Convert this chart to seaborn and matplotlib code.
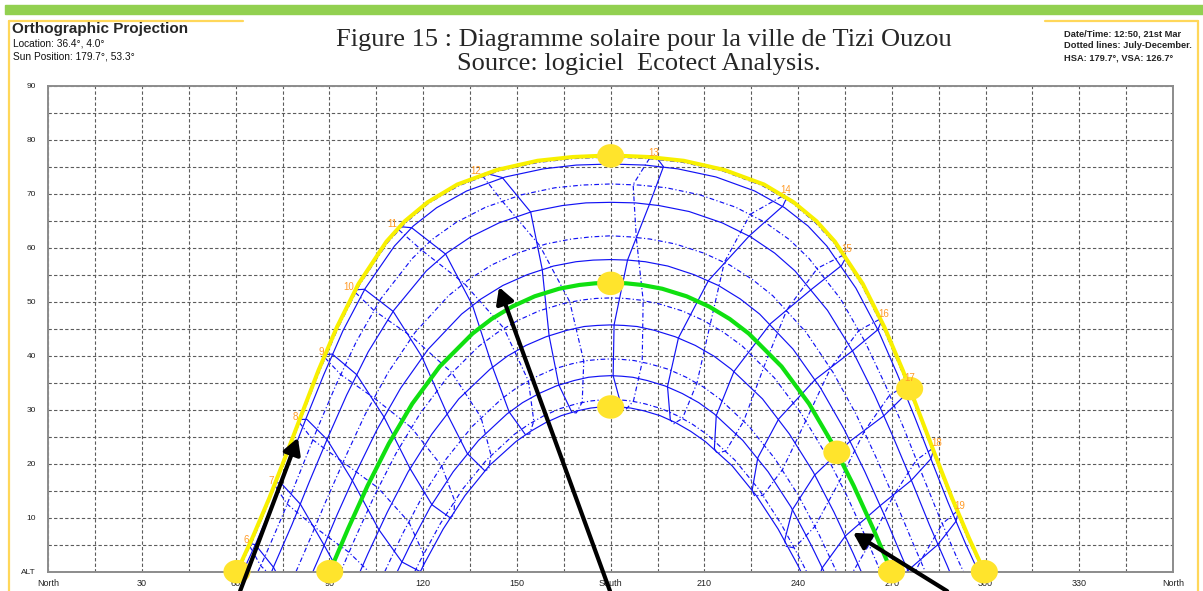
import numpy as np
import matplotlib
matplotlib.use("Agg")
import matplotlib.pyplot as plt
from matplotlib.lines import Line2D
from matplotlib.patches import Rectangle
from matplotlib.path import Path
import seaborn as sns

# Sun-path chart, Tizi Ouzou (36.4N, 4.0E), values in degrees: azimuth (from North) / altitude.
# Monthly sun paths (1st of each month), sunrise -> sunset.
jan_az = [119.1, 120.1, 126.4, 133.4, 141.1, 149.7, 154.4, 159.2, 164.2, 169.4, 173.6, 176.8, 180.0,
          183.2, 186.4, 190.6, 195.8, 200.8, 205.6, 210.3, 218.9, 226.6, 233.6, 239.9, 240.9]
jan_alt = [0.0, 1.2, 7.9, 14.1, 19.6, 24.1, 26.0, 27.6, 28.9, 29.8, 30.3, 30.5, 30.5,
           30.5, 30.3, 29.8, 28.9, 27.6, 26.0, 24.1, 19.6, 14.1, 7.9, 1.2, 0.0]
feb_az = [111.7, 115.8, 122.3, 129.6, 137.7, 146.8, 151.8, 157.1, 162.6, 168.3, 172.9, 176.5, 180.0,
          183.5, 187.1, 191.7, 197.4, 202.9, 208.2, 213.2, 222.3, 230.4, 237.7, 244.2, 248.3]
feb_alt = [0.0, 4.9, 12.0, 18.5, 24.3, 29.2, 31.3, 33.0, 34.4, 35.4, 36.0, 36.2, 36.3,
           36.2, 36.0, 35.4, 34.4, 33.0, 31.3, 29.2, 24.3, 18.5, 12.0, 4.9, 0.0]
mar_az = [99.8, 102.3, 108.5, 115.2, 122.8, 131.4, 141.4, 146.9, 152.9, 159.3, 166.0, 171.5, 175.7, 180.0,
          184.3, 188.5, 194.0, 200.7, 207.1, 213.1, 218.6, 228.6, 237.2, 244.8, 251.5, 257.7, 260.2]
mar_alt = [0.0, 3.3, 11.0, 18.5, 25.5, 32.0, 37.5, 39.9, 41.9, 43.5, 44.7, 45.4, 45.6, 45.7,
           45.6, 45.4, 44.7, 43.5, 41.9, 39.9, 37.5, 32.0, 25.5, 18.5, 11.0, 3.3, 0.0]
apr_az = [84.7, 86.6, 92.5, 98.7, 105.3, 112.8, 121.6, 132.3, 138.5, 145.5, 153.3, 161.7, 168.9, 174.4, 180.0,
          185.6, 191.1, 198.3, 206.7, 214.5, 221.5, 227.7, 238.4, 247.2, 254.7, 261.3, 267.5, 273.4, 275.3]
apr_alt = [0.0, 2.5, 10.6, 18.6, 26.4, 34.0, 41.2, 47.7, 50.5, 53.0, 55.0, 56.6, 57.4, 57.7, 57.8,
           57.7, 57.4, 56.6, 55.0, 53.0, 50.5, 47.7, 41.2, 34.0, 26.4, 18.6, 10.6, 2.5, 0.0]
may_az = [71.5, 72.2, 78.0, 83.6, 89.4, 95.5, 102.4, 110.6, 121.0, 127.5, 135.2, 144.3, 154.9, 164.5, 172.1,
          180.0, 187.9, 195.5, 205.1, 215.7, 224.8, 232.5, 239.0, 249.4, 257.6, 264.5, 270.6, 276.4, 282.0,
          287.8, 288.5]
may_alt = [0.0, 1.0, 8.7, 16.7, 24.7, 32.7, 40.7, 48.4, 55.7, 59.0, 62.0, 64.6, 66.7, 67.8, 68.3,
           68.4, 68.3, 67.8, 66.7, 64.6, 62.0, 59.0, 55.7, 48.4, 40.7, 32.7, 24.7, 16.7, 8.7, 1.0, 0.0]
jun_az = [62.3, 66.5, 72.0, 77.3, 82.6, 88.2, 94.3, 101.5, 110.8, 116.8, 124.3, 133.9, 146.3, 158.5, 169.0,
          180.0, 191.0, 201.5, 213.7, 226.1, 235.7, 243.2, 249.2, 258.5, 265.7, 271.8, 277.4, 282.7, 288.0,
          293.5, 297.7]
jun_alt = [0.0, 5.3, 12.8, 20.6, 28.5, 36.5, 44.6, 52.5, 60.3, 64.0, 67.4, 70.5, 73.1, 74.6, 75.3,
           75.5, 75.3, 74.6, 73.1, 70.5, 67.4, 64.0, 60.3, 52.5, 44.6, 36.5, 28.5, 20.6, 12.8, 5.3, 0.0]
jul_az = [60.7, 65.6, 71.0, 76.2, 81.4, 86.8, 92.8, 99.7, 108.7, 114.6, 121.9, 131.5, 144.1, 156.9, 168.1,
          180.0, 191.9, 203.1, 215.9, 228.5, 238.1, 245.4, 251.3, 260.3, 267.2, 273.2, 278.6, 283.8, 289.0,
          294.4, 299.3]
jul_alt = [0.0, 6.0, 13.5, 21.2, 29.1, 37.1, 45.2, 53.2, 61.0, 64.7, 68.3, 71.5, 74.2, 75.8, 76.5,
           76.8, 76.5, 75.8, 74.2, 71.5, 68.3, 64.7, 61.0, 53.2, 45.2, 37.1, 29.1, 21.2, 13.5, 6.0, 0.0]
aug_az = [67.1, 69.5, 75.2, 80.7, 86.2, 92.1, 98.6, 106.4, 116.5, 122.8, 130.6, 140.0, 151.5, 162.2, 170.9,
          180.0, 189.1, 197.8, 208.5, 220.0, 229.4, 237.2, 243.5, 253.6, 261.4, 267.9, 273.8, 279.3, 284.8,
          290.5, 292.9]
aug_alt = [0.0, 3.0, 10.7, 18.6, 26.6, 34.6, 42.6, 50.5, 58.0, 61.5, 64.7, 67.5, 69.8, 71.1, 71.6,
           71.8, 71.6, 71.1, 69.8, 67.5, 64.7, 61.5, 58.0, 50.5, 42.6, 34.6, 26.6, 18.6, 10.7, 3.0, 0.0]
sep_az = [79.3, 83.1, 88.9, 95.0, 101.4, 108.8, 117.4, 128.1, 134.6, 141.9, 150.2, 159.4, 167.4, 173.7, 180.0,
          186.3, 192.6, 200.6, 209.8, 218.1, 225.4, 231.9, 242.6, 251.2, 258.6, 265.0, 271.1, 276.9, 280.7]
sep_alt = [0.0, 5.1, 13.1, 21.1, 29.1, 36.9, 44.3, 51.1, 54.1, 56.8, 59.0, 60.7, 61.6, 62.0, 62.2,
           62.0, 61.6, 60.7, 59.0, 56.8, 54.1, 51.1, 44.3, 36.9, 29.1, 21.1, 13.1, 5.1, 0.0]
oct_az = [93.6, 98.3, 104.5, 111.3, 118.8, 127.6, 137.9, 143.8, 150.2, 157.1, 164.5, 170.6, 175.3, 180.0,
          184.7, 189.4, 195.5, 202.9, 209.8, 216.2, 222.1, 232.4, 241.2, 248.7, 255.5, 261.7, 266.4]
oct_alt = [0.0, 6.3, 14.2, 21.9, 29.1, 35.9, 41.8, 44.3, 46.5, 48.3, 49.6, 50.3, 50.6, 50.7,
           50.6, 50.3, 49.6, 48.3, 46.5, 44.3, 41.8, 35.9, 29.1, 21.9, 14.2, 6.3, 0.0]
nov_az = [107.7, 113.4, 120.0, 127.4, 135.7, 145.1, 150.3, 155.8, 161.6, 167.6, 172.5, 176.2, 180.0,
          183.8, 187.5, 192.4, 198.4, 204.2, 209.7, 214.9, 224.3, 232.6, 240.0, 246.6, 252.3]
nov_alt = [0.0, 7.0, 14.2, 20.9, 26.9, 32.0, 34.2, 36.0, 37.5, 38.5, 39.1, 39.3, 39.4,
           39.3, 39.1, 38.5, 37.5, 36.0, 34.2, 32.0, 26.9, 20.9, 14.2, 7.0, 0.0]
dec_az = [117.3, 119.1, 125.5, 132.5, 140.3, 149.1, 153.8, 158.7, 163.8, 169.1, 173.4, 176.7, 180.0,
          183.3, 186.6, 190.9, 196.2, 201.3, 206.2, 210.9, 219.7, 227.5, 234.5, 240.9, 242.7]
dec_alt = [0.0, 2.1, 8.9, 15.2, 20.7, 25.4, 27.3, 28.9, 30.2, 31.1, 31.6, 31.8, 31.9,
           31.8, 31.6, 31.1, 30.2, 28.9, 27.3, 25.4, 20.7, 15.2, 8.9, 2.1, 0.0]

# Highlighted paths: 21 June (yellow) and 21 March (green)
jun21_az = [60.4, 65.3, 70.8, 76.0, 81.2, 86.5, 92.4, 99.3, 108.2, 114.1, 121.4, 130.9, 143.6, 156.6, 167.9,
            180.0, 192.1, 203.4, 216.4, 229.1, 238.6, 245.9, 251.8, 260.7, 267.6, 273.5, 278.8, 284.0, 289.2,
            294.7, 299.6]
jun21_alt = [0.0, 6.2, 13.7, 21.4, 29.3, 37.3, 45.3, 53.3, 61.1, 64.9, 68.4, 71.7, 74.4, 76.1, 76.8,
             77.1, 76.8, 76.1, 74.4, 71.7, 68.4, 64.9, 61.1, 53.3, 45.3, 37.3, 29.3, 21.4, 13.7, 6.2, 0.0]
mar21_az = [90.1, 96.0, 102.2, 109.0, 116.5, 125.3, 135.8, 141.9, 148.5, 155.7, 163.5, 170.0, 175.0, 180.0,
            185.0, 190.0, 196.5, 204.3, 211.5, 218.1, 224.2, 234.7, 243.5, 251.0, 257.8, 264.0, 269.9]
mar21_alt = [0.0, 8.0, 15.9, 23.7, 31.1, 38.0, 44.1, 46.8, 49.1, 51.0, 52.4, 53.1, 53.4, 53.5,
             53.4, 53.1, 52.4, 51.0, 49.1, 46.8, 44.1, 38.0, 31.1, 23.7, 15.9, 8.0, 0.0]

# Hour lines 6h..19h, points on: Jan1 Feb1 Mar1 Apr1 May1 Jun1 Jun21 Jul1 Aug1 Sep1 Oct1 Nov1 Dec1 Dec21
hours = [6, 7, 8, 9, 10, 11, 12, 13, 14, 15, 16, 17, 18, 19]
hour_az = [
    [102.8, 96.2, 88.0, 79.3, 72.1, 66.3, 64.6, 64.5, 68.0, 76.5, 87.3, 97.6, 103.3, 103.8],
    [110.7, 104.5, 96.8, 88.3, 80.7, 74.5, 72.7, 72.6, 76.5, 85.4, 96.2, 106.2, 111.4, 111.6],
    [119.1, 113.2, 105.8, 97.3, 89.2, 82.8, 80.5, 80.4, 84.7, 94.3, 105.6, 115.4, 120.1, 120.1],
    [128.6, 122.8, 115.8, 107.4, 98.7, 90.9, 88.6, 88.6, 93.6, 104.2, 116.2, 125.9, 130.1, 129.8],
    [139.7, 134.1, 127.6, 119.6, 110.4, 101.2, 98.3, 98.3, 104.2, 116.4, 129.1, 138.5, 141.7, 141.0],
    [152.7, 147.5, 142.2, 135.8, 127.2, 116.3, 112.4, 112.2, 119.4, 133.1, 145.8, 153.7, 155.4, 154.1],
    [167.6, 163.4, 160.3, 158.1, 154.4, 145.3, 139.8, 139.0, 145.2, 157.3, 166.9, 171.4, 170.9, 169.0],
    [183.5, 180.8, 181.1, 185.4, 192.4, 196.9, 194.7, 192.4, 187.2, 188.2, 190.4, 190.1, 187.3, 184.8],
    [199.1, 198.2, 201.7, 211.3, 224.4, 235.1, 236.4, 234.8, 224.7, 216.4, 211.9, 207.6, 203.0, 200.2],
    [213.2, 213.8, 219.5, 231.1, 244.3, 253.9, 255.4, 254.4, 246.2, 236.4, 229.1, 222.6, 216.9, 214.1],
    [225.3, 227.1, 233.8, 245.5, 257.4, 265.5, 266.7, 266.0, 259.5, 250.4, 242.5, 235.0, 228.7, 226.0],
    [235.7, 238.2, 245.3, 256.7, 267.5, 274.4, 275.5, 274.9, 269.3, 261.2, 253.3, 245.4, 238.8, 236.2],
    [244.7, 247.7, 255.1, 266.2, 276.2, 282.5, 283.3, 282.8, 277.9, 270.4, 262.7, 254.5, 247.7, 245.1],
    [252.8, 256.3, 264.1, 275.1, 284.7, 290.5, 291.2, 290.7, 286.2, 279.2, 271.6, 263.1, 255.8, 253.2],
]
hour_alt = [
    [-22.5, -21.5, -16.1, -7.1, 0.8, 5.0, 5.2, 4.7, 1.1, -3.7, -8.4, -13.8, -19.1, -21.7],
    [-11.0, -9.6, -4.0, 4.9, 12.5, 16.4, 16.5, 15.9, 12.5, 8.2, 3.6, -2.0, -7.6, -10.2],
    [0.0, 1.8, 7.8, 16.9, 24.5, 28.2, 28.2, 27.6, 24.4, 20.3, 15.5, 9.2, 3.3, 0.6],
    [10.0, 12.4, 19.1, 28.7, 36.5, 40.3, 40.2, 39.6, 36.5, 32.2, 26.7, 19.6, 13.1, 10.5],
    [18.7, 21.9, 29.3, 39.8, 48.2, 52.3, 52.2, 51.7, 48.4, 43.5, 36.9, 28.6, 21.6, 19.0],
    [25.4, 29.6, 37.9, 49.3, 58.8, 63.7, 63.9, 63.3, 59.6, 53.4, 45.1, 35.3, 27.9, 25.5],
    [29.5, 34.6, 43.7, 56.0, 66.6, 73.0, 73.8, 73.3, 68.7, 60.4, 50.0, 39.0, 31.4, 29.4],
    [30.5, 36.3, 45.7, 57.7, 68.0, 75.0, 76.7, 76.5, 71.7, 61.9, 50.3, 38.8, 31.6, 30.0],
    [28.1, 34.3, 43.3, 53.9, 62.2, 67.7, 69.3, 69.5, 66.2, 57.3, 45.9, 34.9, 28.4, 27.4],
    [22.8, 28.9, 37.1, 45.9, 52.3, 56.7, 58.3, 58.6, 56.2, 48.5, 38.0, 27.9, 22.4, 21.9],
    [15.1, 21.1, 28.3, 35.6, 40.9, 44.8, 46.4, 46.7, 44.7, 37.7, 28.0, 18.9, 14.1, 14.1],
    [5.8, 11.5, 17.9, 24.2, 28.9, 32.8, 34.3, 34.6, 32.7, 26.0, 16.8, 8.4, 4.4, 4.7],
    [-4.7, 0.7, 6.6, 12.2, 16.9, 20.9, 22.4, 22.7, 20.7, 14.0, 5.0, -3.0, -6.4, -5.8],
    [-15.9, -10.7, -5.3, 0.2, 5.0, 9.3, 10.9, 11.1, 8.9, 2.0, -7.0, -14.8, -17.8, -17.1],
]

# Hour labels along the 21 June path
label_az = [63.3, 71.5, 79.2, 87.5, 96.3, 110.2, 136.9, 193.7, 236.1, 255.6, 267.5, 275.8, 284.2, 291.8]
label_alt = [5.9, 16.7, 28.7, 40.7, 52.8, 64.4, 74.2, 77.5, 70.7, 59.7, 47.7, 35.9, 23.8, 12.2]

# Yellow sun markers
sun_az = [60.4, 90.1, 180.0, 180.0, 180.0, 252.4, 275.7, 269.9, 299.6]
sun_alt = [0.0, 0.0, 77.0, 53.4, 30.5, 22.1, 33.9, 0.0, 0.0]

# Black annotation arrows (tail below the axis -> tip)
arrow_tail_az = [61.4, 179.8, 287.7]
arrow_tail_alt = [-3.6, -3.6, -3.6]
arrow_tip_az = [79.9, 144.3, 257.6]
arrow_tip_alt = [24.8, 52.7, 7.2]

x_ticks = [0, 30, 60, 90, 120, 150, 180, 210, 240, 270, 300, 330, 360]
x_labels = ["North", "30", "60", "90", "120", "150", "South", "210", "240", "270", "300", "330", "North"]
y_ticks = [0, 10, 20, 30, 40, 50, 60, 70, 80, 90]
y_labels = ["ALT", "10", "20", "30", "40", "50", "60", "70", "80", "90"]

BLUE = "#1212F4"
DOTTED = (0, (4, 2, 1, 2))
GRID = "#5c5c5c"
FRAME = "#FFD75A"

sns.set_style("white")
plt.rcParams["font.family"] = ["Liberation Sans", "DejaVu Sans"]

fig = plt.figure(figsize=(12.03, 5.91), dpi=100)
ax = fig.add_axes([0.0401, 0.0327, 0.9350, 0.8223])


def draw(az, alt, **kw):
    sns.lineplot(x=az, y=alt, sort=False, estimator=None, ax=ax, **kw)


# hour lines (analemma halves): Jan-Jun solid, Jul-Dec dotted
for h_az, h_alt in zip(hour_az, hour_alt):
    draw(h_az[:8], h_alt[:8], color=BLUE, linewidth=0.85, zorder=2)
    draw(h_az[7:] + h_az[:1], h_alt[7:] + h_alt[:1], color=BLUE, linewidth=0.85,
         linestyle=DOTTED, zorder=2)

for az, alt in [(jan_az, jan_alt), (feb_az, feb_alt), (mar_az, mar_alt),
                (apr_az, apr_alt), (may_az, may_alt), (jun_az, jun_alt)]:
    draw(az, alt, color=BLUE, linewidth=0.85, zorder=2)
for az, alt in [(jul_az, jul_alt), (aug_az, aug_alt), (sep_az, sep_alt),
                (oct_az, oct_alt), (nov_az, nov_alt), (dec_az, dec_alt)]:
    draw(az, alt, color=BLUE, linewidth=0.85, linestyle=DOTTED, zorder=2)

draw(mar21_az, mar21_alt, color="#10E010", linewidth=3.0, zorder=3)
draw(jun21_az, jun21_alt, color="#F8F000", linewidth=2.9, zorder=3)

t = np.linspace(0, 2 * np.pi, 60)
oval = Path(np.column_stack([1.15 * np.cos(t), np.sin(t)]))
sns.scatterplot(x=sun_az, y=sun_alt, marker=oval, s=380, color="#FFE42C",
                edgecolor="none", ax=ax, zorder=6, clip_on=False)

for h, la, ll in zip(hours, label_az, label_alt):
    ax.text(la, ll, str(h), color="#FF9A26", fontsize=7, ha="center", va="center", zorder=7)

for ta, tl, ha, hl in zip(arrow_tail_az, arrow_tail_alt, arrow_tip_az, arrow_tip_alt):
    ax.annotate("", xy=(ha, hl), xytext=(ta, tl), xycoords="data", annotation_clip=False,
                arrowprops=dict(arrowstyle="-|>,head_length=0.5,head_width=0.28", lw=3,
                                color="black", shrinkA=0, shrinkB=0, mutation_scale=19),
                zorder=9)

ax.set_xlim(0, 360)
ax.set_ylim(0, 90)
ax.set_xticks(x_ticks)
ax.set_xticklabels(x_labels)
ax.set_xticks(range(15, 360, 30), minor=True)
ax.set_yticks(y_ticks)
ax.set_yticklabels(y_labels)
ax.set_yticks(range(5, 90, 10), minor=True)
ax.set_xlabel("")
ax.set_ylabel("")
ax.set_axisbelow(True)
ax.grid(which="both", color=GRID, linestyle=(0, (3, 2)), linewidth=0.8)
ax.tick_params(axis="y", which="major", length=7, width=1, color="#8a8a8a",
               labelsize=6, pad=2, labelcolor="#222222")
ax.tick_params(axis="x", which="major", length=3.5, width=1, color="#8a8a8a",
               labelsize=6.5, pad=2, labelcolor="#222222")
ax.tick_params(which="minor", length=0)
for side in ["left", "bottom", "top", "right"]:
    ax.spines[side].set_color("#8c8c8c")
    ax.spines[side].set_linewidth(1.4)

# page decorations: green rule and yellow Ecotect frame
fig.patches.append(Rectangle((5 / 1203, 1 - 14 / 591), 1, 9 / 591, transform=fig.transFigure,
                             color="#92D050", zorder=0))
for xs, ys in [([8.5, 8.5], [20.5, 591]), ([8.5, 243], [20.5, 20.5]),
               ([1198, 1198], [20.5, 591]), ([1045, 1198], [20.5, 20.5])]:
    fig.add_artist(Line2D([x / 1203 for x in xs], [1 - y / 591 for y in ys],
                          transform=fig.transFigure, color=FRAME, linewidth=1.6))

fig.text(11.5 / 1203, 1 - 33.3 / 591, "Orthographic Projection", fontsize=11,
         fontweight="bold", va="baseline", ha="left")
fig.text(13 / 1203, 1 - 46.7 / 591, "Location: 36.4°, 4.0°", fontsize=7.3,
         va="baseline", ha="left", color="#111111")
fig.text(13 / 1203, 1 - 59.3 / 591, "Sun Position: 179.7°, 53.3°", fontsize=7.3,
         va="baseline", ha="left", color="#111111")
fig.text(1064 / 1203, 1 - 36.7 / 591, "Date/Time: 12:50, 21st Mar", fontsize=6.7,
         fontweight="bold", va="baseline", ha="left", color="#222222")
fig.text(1064 / 1203, 1 - 48.3 / 591, "Dotted lines: July-December.", fontsize=6.7,
         fontweight="bold", va="baseline", ha="left", color="#222222")
fig.text(1064 / 1203, 1 - 60 / 591, "HSA: 179.7°, VSA: 126.7°", fontsize=6.7,
         fontweight="bold", va="baseline", ha="left", color="#222222")

fig.text(644 / 1203, 1 - 46 / 591, "Figure 15 : Diagramme solaire pour la ville de Tizi Ouzou",
         fontsize=19, family="Liberation Serif", ha="center", va="baseline")
fig.text(639 / 1203, 1 - 70 / 591, "Source: logiciel  Ecotect Analysis.",
         fontsize=19, family="Liberation Serif", ha="center", va="baseline")

fig.savefig("out.png", dpi=100, facecolor="white")
